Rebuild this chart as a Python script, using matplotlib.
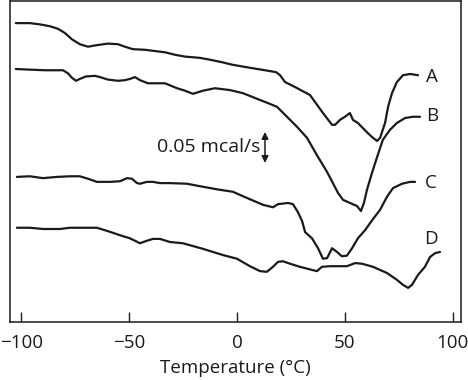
import matplotlib
matplotlib.use("Agg")
import matplotlib.pyplot as plt

plt.rcParams['font.family'] = ['Open Sans', 'DejaVu Sans']

# Temperature (°C) and heat flow (mcal/s, offset curves)
temp_A = [-102.6, -96.1, -91.4, -86.8, -83.1, -79.8, -76.6, -72.9, -69.1, -65.9, -59.9, -55.2, -52.0, -48.3,
          -42.7, -38.1, -33.4, -28.8, -24.1, -17.2, -12.5, -7.0, -2.3, 6.0, 13.0, 18.1, 20.0, 22.3, 26.9,
          33.9, 39.9, 44.1, 45.5, 47.8, 50.1, 52.4, 53.8, 56.1, 60.3, 63.1, 65.0, 66.4, 68.7, 70.1, 71.9,
          74.2, 77.0, 80.3, 84.0]
flow_A = [0.482, 0.482, 0.480, 0.477, 0.473, 0.466, 0.456, 0.448, 0.444, 0.446, 0.449, 0.448, 0.444, 0.440,
          0.439, 0.437, 0.435, 0.431, 0.428, 0.426, 0.423, 0.419, 0.415, 0.410, 0.406, 0.403, 0.398, 0.387, 0.379,
          0.366, 0.337, 0.318, 0.318, 0.326, 0.331, 0.337, 0.326, 0.321, 0.306, 0.297, 0.292, 0.297, 0.321, 0.347, 0.369,
          0.387, 0.398, 0.400, 0.398]

temp_B = [-102.6, -96.1, -89.1, -80.7, -78.4, -76.6, -74.7, -72.9, -70.1, -65.9, -63.6, -59.9, -55.2, -52.0,
          -49.7, -47.3, -45.0, -41.3, -36.7, -33.4, -27.8, -24.1, -20.4, -15.8, -10.2, -3.2, 2.8, 9.3, 14.4,
          18.6, 23.2, 27.8, 32.5, 37.1, 41.8, 44.5, 46.9, 49.2, 52.4, 55.7, 57.5, 58.9, 60.3, 62.6, 65.0,
          67.7, 71.0, 74.2, 78.0, 81.7, 84.9]
flow_B = [0.408, 0.407, 0.406, 0.406, 0.401, 0.394, 0.389, 0.392, 0.396, 0.397, 0.395, 0.391, 0.389, 0.390,
          0.392, 0.395, 0.390, 0.385, 0.385, 0.385, 0.377, 0.373, 0.368, 0.373, 0.377, 0.374, 0.369, 0.360, 0.353,
          0.347, 0.331, 0.315, 0.297, 0.269, 0.242, 0.224, 0.208, 0.197, 0.192, 0.187, 0.179, 0.192, 0.213, 0.240, 0.266,
          0.294, 0.310, 0.321, 0.329, 0.331, 0.331]

temp_C = [-102.1, -96.1, -90.0, -83.5, -77.5, -72.9, -69.1, -65.0, -58.9, -54.3, -51.0, -48.7, -46.4, -45.0,
          -41.8, -39.0, -35.7, -31.1, -23.2, -17.2, -9.3, -1.9, 6.0, 12.1, 16.7, 19.0, 23.7, 26.0, 28.3,
          30.2, 31.6, 34.8, 37.6, 39.9, 41.8, 44.1, 46.4, 48.7, 51.0, 53.4, 56.1, 59.4, 63.1, 66.4, 69.6,
          72.4, 76.6, 80.3, 82.6]
flow_C = [0.234, 0.235, 0.232, 0.234, 0.235, 0.235, 0.231, 0.226, 0.226, 0.227, 0.232, 0.231, 0.224, 0.223,
          0.226, 0.226, 0.224, 0.224, 0.223, 0.219, 0.214, 0.210, 0.198, 0.189, 0.185, 0.190, 0.192, 0.190, 0.177,
          0.163, 0.145, 0.135, 0.119, 0.102, 0.103, 0.119, 0.113, 0.106, 0.107, 0.119, 0.135, 0.148, 0.166, 0.181, 0.202,
          0.216, 0.223, 0.226, 0.226]

temp_D = [-102.1, -96.1, -90.0, -82.1, -77.5, -71.5, -65.0, -60.3, -54.3, -49.7, -47.3, -45.0, -41.8, -39.0,
          -35.7, -31.1, -25.1, -15.8, -6.5, 0.0, 6.0, 10.7, 13.9, 16.7, 19.0, 21.3, 24.6, 29.2, 34.8,
          37.1, 39.4, 43.2, 51.0, 54.8, 58.0, 63.1, 69.6, 74.2, 77.0, 79.4, 81.2, 84.0, 87.2, 89.6, 91.9, 94.2]
flow_D = [0.152, 0.152, 0.150, 0.150, 0.152, 0.152, 0.152, 0.147, 0.140, 0.135, 0.131, 0.127, 0.131, 0.134,
          0.134, 0.129, 0.127, 0.118, 0.108, 0.102, 0.090, 0.082, 0.081, 0.089, 0.097, 0.098, 0.094, 0.089, 0.084,
          0.082, 0.089, 0.090, 0.090, 0.095, 0.094, 0.089, 0.079, 0.068, 0.060, 0.055, 0.060, 0.076, 0.089, 0.105, 0.111, 0.113]

labels = ['A', 'B', 'C', 'D']
label_temp = [90.5, 90.5, 90.0, 90.0]
label_flow = [0.395, 0.332, 0.224, 0.134]

xticks = [-100, -50, 0, 50, 100]
scale_value = 0.05  # mcal/s
scale_text = '0.05 mcal/s'
xlabel = 'Temperature (°C)'

fig = plt.figure(figsize=(4.68, 3.80), dpi=100)
ax = fig.add_axes([10 / 468, 1 - 322 / 380, 450.5 / 468, 321.5 / 380])

for t, f in [(temp_A, flow_A), (temp_B, flow_B), (temp_C, flow_C), (temp_D, flow_D)]:
    ax.plot(t, f, color='#1a1a1a', lw=1.6, solid_joinstyle='round', solid_capstyle='round')

for lab, t, f in zip(labels, label_temp, label_flow):
    ax.text(t, f, lab, fontsize=13.5, ha='center', va='center', color='#1a1a1a')

# scale bar
bar_t = 13.0
bar_lo = 0.2565
ax.annotate('', xy=(bar_t, bar_lo + scale_value), xytext=(bar_t, bar_lo),
            arrowprops=dict(arrowstyle='<|-|>', color='#1a1a1a', lw=1.1,
                            mutation_scale=10, shrinkA=0, shrinkB=0))
ax.text(10.7, bar_lo + scale_value / 2, scale_text, fontsize=14, ha='right', va='center', color='#1a1a1a')

ax.set_xlim(-105.3, 103.7)
ax.set_ylim(0, 0.5185)
ax.set_xticks(xticks)
ax.set_xticklabels([str(v).replace('-', '\u2212') for v in xticks])
ax.set_yticks([])
ax.tick_params(axis='x', direction='in', length=7, width=1.0, labelsize=13.5, pad=8.5, colors='#1a1a1a')
for s in ax.spines.values():
    s.set_linewidth(1.1)
    s.set_color('#1a1a1a')
ax.set_xlabel(xlabel, fontsize=13.5, labelpad=5, color='#1a1a1a')

fig.savefig('out.png', dpi=100)
